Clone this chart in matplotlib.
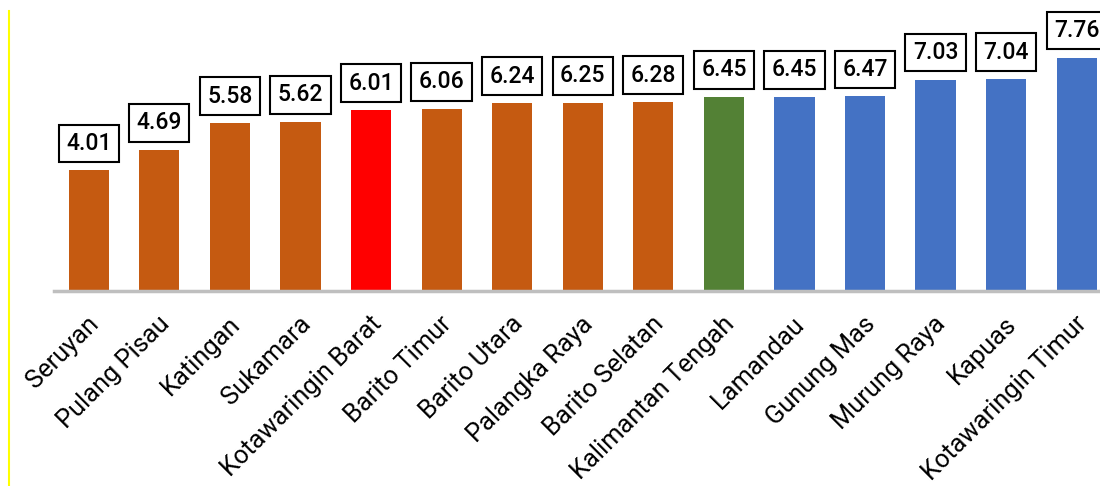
import matplotlib
matplotlib.use("Agg")
import matplotlib.pyplot as plt
from matplotlib.lines import Line2D
from matplotlib.transforms import ScaledTranslation

categories = ["Seruyan", "Pulang Pisau", "Katingan", "Sukamara", "Kotawaringin Barat",
              "Barito Timur", "Barito Utara", "Palangka Raya", "Barito Selatan",
              "Kalimantan Tengah", "Lamandau", "Gunung Mas", "Murung Raya", "Kapuas",
              "Kotawaringin Timur"]
values = [4.01, 4.69, 5.58, 5.62, 6.01, 6.06, 6.24, 6.25, 6.28, 6.45, 6.45, 6.47, 7.03, 7.04, 7.76]
colors = ["#C55A11"] * 4 + ["#FF0000"] + ["#C55A11"] * 4 + ["#538135"] + ["#4472C4"] * 5

W, H = 1100, 486
fig = plt.figure(figsize=(W / 100, H / 100), dpi=100)
ax_left = 53.5 / W
ax_bottom = 1 - 291 / H
ymax = 9.0
ax_h = ymax * 30.07 / H
ax_w = (1112 - 53.5) / W
ax = fig.add_axes([ax_left, ax_bottom, ax_w, ax_h])

x = list(range(len(categories)))
ax.bar(x, values, width=0.57, color=colors, zorder=2)
ax.set_xlim(-0.5, len(categories) - 0.5)
ax.set_ylim(0, ymax)

for s in ["top", "right", "left"]:
    ax.spines[s].set_visible(False)
ax.spines["bottom"].set_color("#BFBFBF")
ax.spines["bottom"].set_linewidth(2.5)
ax.set_yticks([])
ax.tick_params(axis="x", length=0, pad=15)
ax.set_xticks(x)
ax.set_xticklabels(categories, rotation=45, ha="right", va="top", rotation_mode="anchor",
                   fontsize=18.3, family="Roboto", color="#000000")
shift = ScaledTranslation(-2 / 100, 0, fig.dpi_scale_trans)
for lab in ax.get_xticklabels():
    lab.set_transform(lab.get_transform() + shift)

for xi, v in zip(x, values):
    ax.annotate(f"{v:.2f}", xy=(xi, v), xytext=(0, 19.5), textcoords="offset points",
                ha="center", va="center", fontsize=16.5, family="Roboto", fontweight="medium",
                color="black",
                bbox=dict(boxstyle="square,pad=0.32", fc="white", ec="black", lw=1.5))

fig.add_artist(Line2D([8.5 / W, 8.5 / W], [0, 1 - 11 / H], transform=fig.transFigure,
                      color="#FFFF00", lw=1.5))

fig.savefig("out.png", dpi=100)
